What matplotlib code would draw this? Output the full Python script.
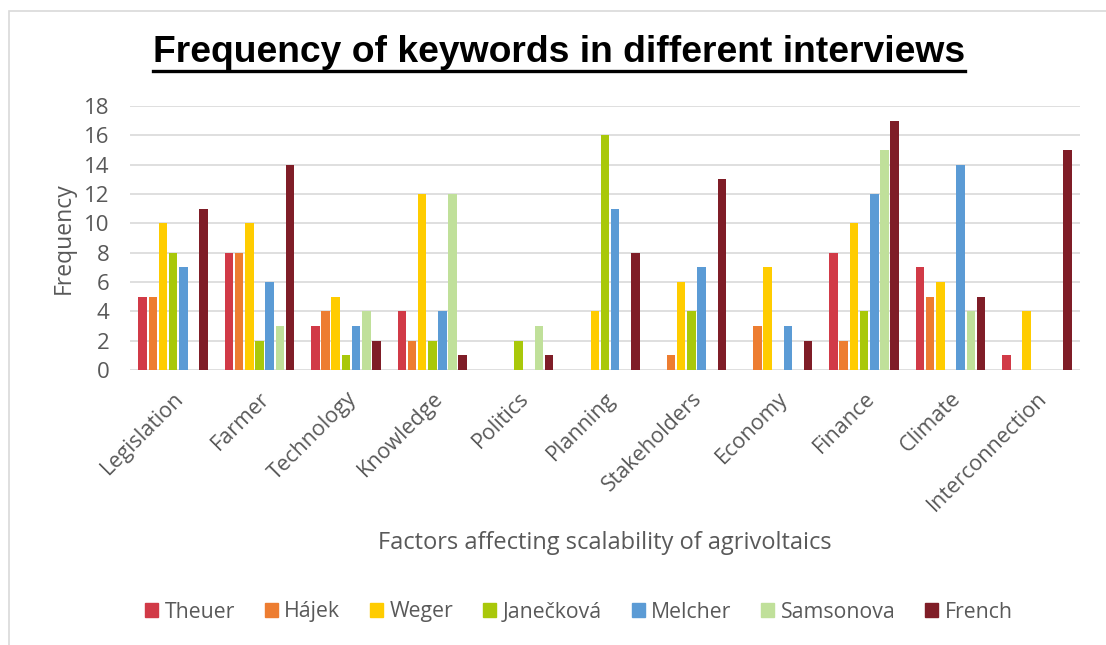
import matplotlib
matplotlib.use("Agg")
import matplotlib.pyplot as plt
import numpy as np
from matplotlib.patches import Rectangle
from matplotlib.lines import Line2D

factors = ["Legislation", "Farmer", "Technology", "Knowledge", "Politics", "Planning",
           "Stakeholders", "Economy", "Finance", "Climate", "Interconnection"]
interviewees = ["Theuer", "Hájek", "Weger", "Janečková", "Melcher", "Samsonova", "French"]

theuer    = [5, 8, 3, 4, 0, 0, 0, 0, 8, 7, 1]
hajek     = [5, 8, 4, 2, 0, 0, 1, 3, 2, 5, 0]
weger     = [10, 10, 5, 12, 0, 4, 6, 7, 10, 6, 4]
janeckova = [8, 2, 1, 2, 2, 16, 4, 0, 4, 0, 0]
melcher   = [7, 6, 3, 4, 0, 11, 7, 3, 12, 14, 0]
samsonova = [0, 3, 4, 12, 3, 0, 0, 0, 15, 4, 0]
french    = [11, 14, 2, 1, 1, 8, 13, 2, 17, 5, 15]

series = [theuer, hajek, weger, janeckova, melcher, samsonova, french]
colors = ["#D13A47", "#ED7D31", "#FFCC00", "#A9C80A", "#5B9BD5", "#C0E09A", "#7F1D27"]

yticks = list(range(0, 19, 2))

text_font = ["Open Sans", "DejaVu Sans"]
text_color = "#595959"

fig = plt.figure(figsize=(11.06, 6.45), dpi=100)
fig.patch.set_facecolor("white")

# chart frame
fig.patches.append(Rectangle((9 / 1106, -0.05), 1.2, 1 - 11 / 645 + 0.05,
                             transform=fig.transFigure, fill=False,
                             edgecolor="#d9d9d9", linewidth=1.2))

ax = fig.add_axes([130 / 1106, 1 - 370 / 645, (1080 - 130) / 1106, (370 - 106) / 645])

x = np.arange(len(factors))
slot = 0.1177
bar_w = 0.099
n = len(series)
for i, (vals, col, name) in enumerate(zip(series, colors, interviewees)):
    offs = (i - (n - 1) / 2) * slot
    ax.bar(x + offs, vals, width=bar_w, color=col, label=name, zorder=3)

ax.set_xlim(-0.5, len(factors) - 0.5)
ax.set_ylim(0, 18)
ax.set_yticks(yticks)
ax.set_yticklabels([str(t) for t in yticks], fontfamily=text_font, fontsize=16, color=text_color)
ax.set_xticks(x)
ax.set_xticklabels(factors, rotation=45, ha="right", rotation_mode="anchor",
                   fontfamily=text_font, fontsize=15.5, color=text_color)
ax.tick_params(axis="both", length=0)
ax.tick_params(axis="y", pad=15)
ax.tick_params(axis="x", pad=13)
for s in ax.spines.values():
    s.set_visible(False)
ax.grid(axis="y", color="#d9d9d9", linewidth=1.2, zorder=0)
ax.set_axisbelow(True)

ax.set_ylabel("Frequency", fontfamily=text_font, fontsize=16.5, color=text_color, labelpad=6)
fig.text(605 / 1106, 1 - 543 / 645, "Factors affecting scalability of agrivoltaics",
         ha="center", va="center", fontfamily=text_font, fontsize=17, color=text_color)

# title with underline
title = fig.text(559 / 1106, 1 - 53 / 645, "Frequency of keywords in different interviews",
                 ha="center", va="center", fontfamily="Liberation Sans", fontweight="bold",
                 fontsize=26.8, color="black")
fig.canvas.draw()
bb = title.get_window_extent().transformed(fig.transFigure.inverted())
uy = 1 - 71 / 645
fig.lines.append(Line2D([bb.x0, bb.x1], [uy, uy], transform=fig.transFigure,
                        color="black", linewidth=2.4))

handles = [Rectangle((0, 0), 1, 1, color=c) for c in colors]
leg = fig.legend(handles, interviewees, loc="center", bbox_to_anchor=(579 / 1106, 1 - 612 / 645),
                 ncol=7, frameon=False, handlelength=0.62, handleheight=0.62,
                 handletextpad=0.3, columnspacing=1.4,
                 prop={"family": text_font, "size": 15.3})
for t in leg.get_texts():
    t.set_color(text_color)

fig.savefig("out.png", dpi=100, facecolor="white")
